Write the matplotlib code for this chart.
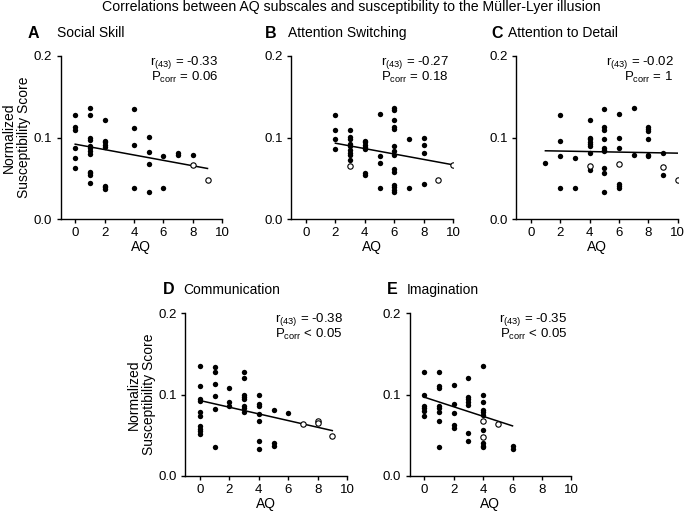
import numpy as np
import matplotlib
matplotlib.use("Agg")
import matplotlib.pyplot as plt

plt.rcParams['font.family'] = ['Liberation Sans', 'DejaVu Sans']
plt.rcParams['mathtext.fontset'] = 'custom'
plt.rcParams['mathtext.rm'] = 'Liberation Sans'
plt.rcParams['mathtext.it'] = 'Liberation Sans:italic'

W, H = 685, 512

# ---------------- data ----------------
labels = ["A", "B", "C", "D", "E"]
titles = ["Social Skill", "Attention Switching", "Attention to Detail",
          "Communication", "Imagination"]
r_text = ["-0.33", "-0.27", "-0.02", "-0.38", "-0.35"]
p_text = ["= 0.06", "= 0.18", "= 1", "< 0.05", "< 0.05"]

# Panel A: Social Skill
A_x = [0, 0, 0, 0, 0, 0,
       1, 1, 1, 1, 1, 1, 1, 1, 1, 1, 1, 1,
       2, 2, 2, 2, 2, 2, 2, 2,
       4, 4, 4, 4,
       5, 5, 5, 5,
       6, 6,
       7, 7,
       8]
A_y = [0.127, 0.113, 0.109, 0.087, 0.075, 0.062,
       0.136, 0.128, 0.099, 0.097, 0.090, 0.087, 0.083, 0.080, 0.058, 0.056, 0.054, 0.044,
       0.121, 0.096, 0.094, 0.091, 0.088, 0.041, 0.039, 0.037,
       0.135, 0.112, 0.091, 0.038,
       0.101, 0.082, 0.068, 0.033,
       0.077, 0.038,
       0.081, 0.079,
       0.078]
A_ox = [8, 9]
A_oy = [0.066, 0.048]
A_line = [0, 9, 0.0918, 0.062]

# Panel B: Attention Switching
B_x = [2, 2, 2, 2,
       3, 3, 3, 3, 3, 3, 3, 3, 3,
       4, 4, 4, 4, 4, 4, 4,
       5, 5, 5, 5,
       6, 6, 6, 6, 6, 6, 6, 6, 6, 6, 6, 6, 6, 6,
       7, 7,
       8, 8, 8, 8]
B_y = [0.127, 0.109, 0.098, 0.086,
       0.109, 0.101, 0.098, 0.092, 0.090, 0.085, 0.081, 0.078, 0.073,
       0.096, 0.094, 0.091, 0.088, 0.086, 0.056, 0.054,
       0.129, 0.077, 0.069, 0.038,
       0.136, 0.134, 0.121, 0.113, 0.111, 0.089, 0.084, 0.079, 0.061, 0.058, 0.042, 0.039, 0.036, 0.033,
       0.098, 0.038,
       0.100, 0.091, 0.081, 0.043]
B_ox = [3, 9, 10]
B_oy = [0.065, 0.048, 0.066]
B_line = [2, 10, 0.093, 0.0665]

# Panel C: Attention to Detail
C_x = [1,
       2, 2, 2, 2,
       3, 3,
       4, 4, 4, 4, 4, 4, 4, 4,
       5, 5, 5, 5, 5, 5, 5, 5, 5, 5,
       6, 6, 6, 6, 6, 6,
       7, 7,
       8, 8, 8, 8, 8, 8,
       9, 9]
C_y = [0.069,
       0.127, 0.096, 0.077, 0.038,
       0.075, 0.038,
       0.121, 0.100, 0.098, 0.095, 0.092, 0.089, 0.081, 0.060,
       0.135, 0.113, 0.109, 0.098, 0.087, 0.085, 0.083, 0.062, 0.056, 0.033,
       0.129, 0.100, 0.087, 0.043, 0.040, 0.038,
       0.136, 0.079,
       0.113, 0.111, 0.108, 0.098, 0.079, 0.077,
       0.081, 0.054]
C_ox = [4, 6, 9, 10]
C_oy = [0.065, 0.067, 0.064, 0.048]
C_line = [1, 10, 0.0837, 0.0808]

# Panel D: Communication
D_x = [0, 0, 0, 0, 0, 0, 0, 0, 0, 0,
       1, 1, 1, 1, 1, 1,
       2, 2, 2,
       3, 3, 3, 3, 3, 3, 3, 3,
       4, 4, 4, 4, 4, 4, 4,
       5, 5, 5,
       6]
D_y = [0.135, 0.111, 0.095, 0.092, 0.078, 0.074, 0.061, 0.058, 0.055, 0.052,
       0.134, 0.127, 0.113, 0.098, 0.082, 0.036,
       0.108, 0.091, 0.086,
       0.128, 0.120, 0.0996, 0.097, 0.094, 0.086, 0.083, 0.079,
       0.100, 0.0885, 0.086, 0.076, 0.068, 0.043, 0.033,
       0.081, 0.040, 0.037,
       0.077]
D_ox = [7, 8, 8, 9]
D_oy = [0.064, 0.068, 0.065, 0.049]
D_line = [0, 9, 0.0926, 0.0557]

# Panel E: Imagination
E_x = [0, 0, 0, 0, 0, 0,
       1, 1, 1, 1, 1, 1, 1, 1,
       2, 2, 2, 2, 2,
       3, 3, 3, 3, 3, 3, 3,
       4, 4, 4, 4, 4, 4, 4, 4, 4, 4,
       6, 6]
E_y = [0.127, 0.100, 0.086, 0.083, 0.080, 0.074,
       0.128, 0.111, 0.108, 0.086, 0.084, 0.079, 0.068, 0.036,
       0.112, 0.088, 0.077, 0.062, 0.059,
       0.120, 0.0975, 0.095, 0.091, 0.087, 0.053, 0.043,
       0.135, 0.100, 0.091, 0.081, 0.078, 0.075, 0.056, 0.040, 0.037, 0.036,
       0.037, 0.033]
E_ox = [4, 4, 5]
E_oy = [0.067, 0.048, 0.064]
E_line = [0, 6, 0.0967, 0.0615]

panels = [
    (A_x, A_y, A_ox, A_oy, A_line),
    (B_x, B_y, B_ox, B_oy, B_line),
    (C_x, C_y, C_ox, C_oy, C_line),
    (D_x, D_y, D_ox, D_oy, D_line),
    (E_x, E_y, E_ox, E_oy, E_line),
]

# ---------------- layout (pixels) ----------------
axes_px = [  # left, top, right, bottom
    (60.5, 56, 222.2, 219),
    (291.3, 56, 453.0, 219),
    (516.0, 56, 677.7, 219),
    (185.3, 313, 347.0, 476),
    (409.6, 313, 571.3, 476),
]
label_px = [(28, 33), (265, 33), (491, 33), (163, 290), (387, 290)]
title_px = [(57, 33), (288, 33), (508, 33), (183, 290), (407, 290)]

fig = plt.figure(figsize=(W / 100, H / 100), dpi=100)
fig.text(351 / W, 1 - 7 / H, "Correlations between AQ subscales and susceptibility to the Müller-Lyer illusion",
         ha="center", va="center", fontsize=10.2)

for i, (xs, ys, oxs, oys, line) in enumerate(panels):
    l, t, r, b = axes_px[i]
    ax = fig.add_axes([l / W, 1 - b / H, (r - l) / W, (b - t) / H])
    ax.scatter(xs, ys, s=15, color="black", zorder=3, linewidths=0)
    ax.scatter(oxs, oys, s=15, facecolor="white", edgecolor="black", linewidths=0.8, zorder=3)
    ax.plot([line[0], line[1]], [line[2], line[3]], color="black", lw=1.1, zorder=2)
    ax.set_xlim(-1, 10)
    ax.set_ylim(0, 0.2)
    ax.set_xticks([0, 2, 4, 6, 8, 10])
    ax.set_yticks([0.0, 0.1, 0.2])
    ax.set_yticklabels(["0.0", "0.1", "0.2"])
    ax.spines["top"].set_visible(False)
    ax.spines["right"].set_visible(False)
    ax.spines["left"].set_linewidth(1.0)
    ax.spines["bottom"].set_linewidth(1.0)
    ax.tick_params(direction="out", length=3, width=1.0, labelsize=9.5, pad=3)
    ax.set_xlabel("AQ", fontsize=10, labelpad=0.5)
    if i in (0, 3):
        ax.set_ylabel("Normalized\nSusceptibility Score", fontsize=10, labelpad=2,
                      linespacing=1.05)
    stat = (r"r$_{\mathrm{(43)}}$ = " + r_text[i] + "\n" +
            r"P$_{\mathrm{corr}}$ " + p_text[i])
    ax.text(0.975, 0.918, stat, transform=ax.transAxes, ha="right", va="center",
            multialignment="right", fontsize=9.5, linespacing=0.95)

    lx, ly = label_px[i]
    fig.text(lx / W, 1 - ly / H, labels[i], ha="left", va="center", fontsize=11.5, fontweight="bold")
    tx, ty = title_px[i]
    fig.text(tx / W, 1 - ty / H, titles[i], ha="left", va="center", fontsize=10)

fig.savefig("out.png", dpi=100)
